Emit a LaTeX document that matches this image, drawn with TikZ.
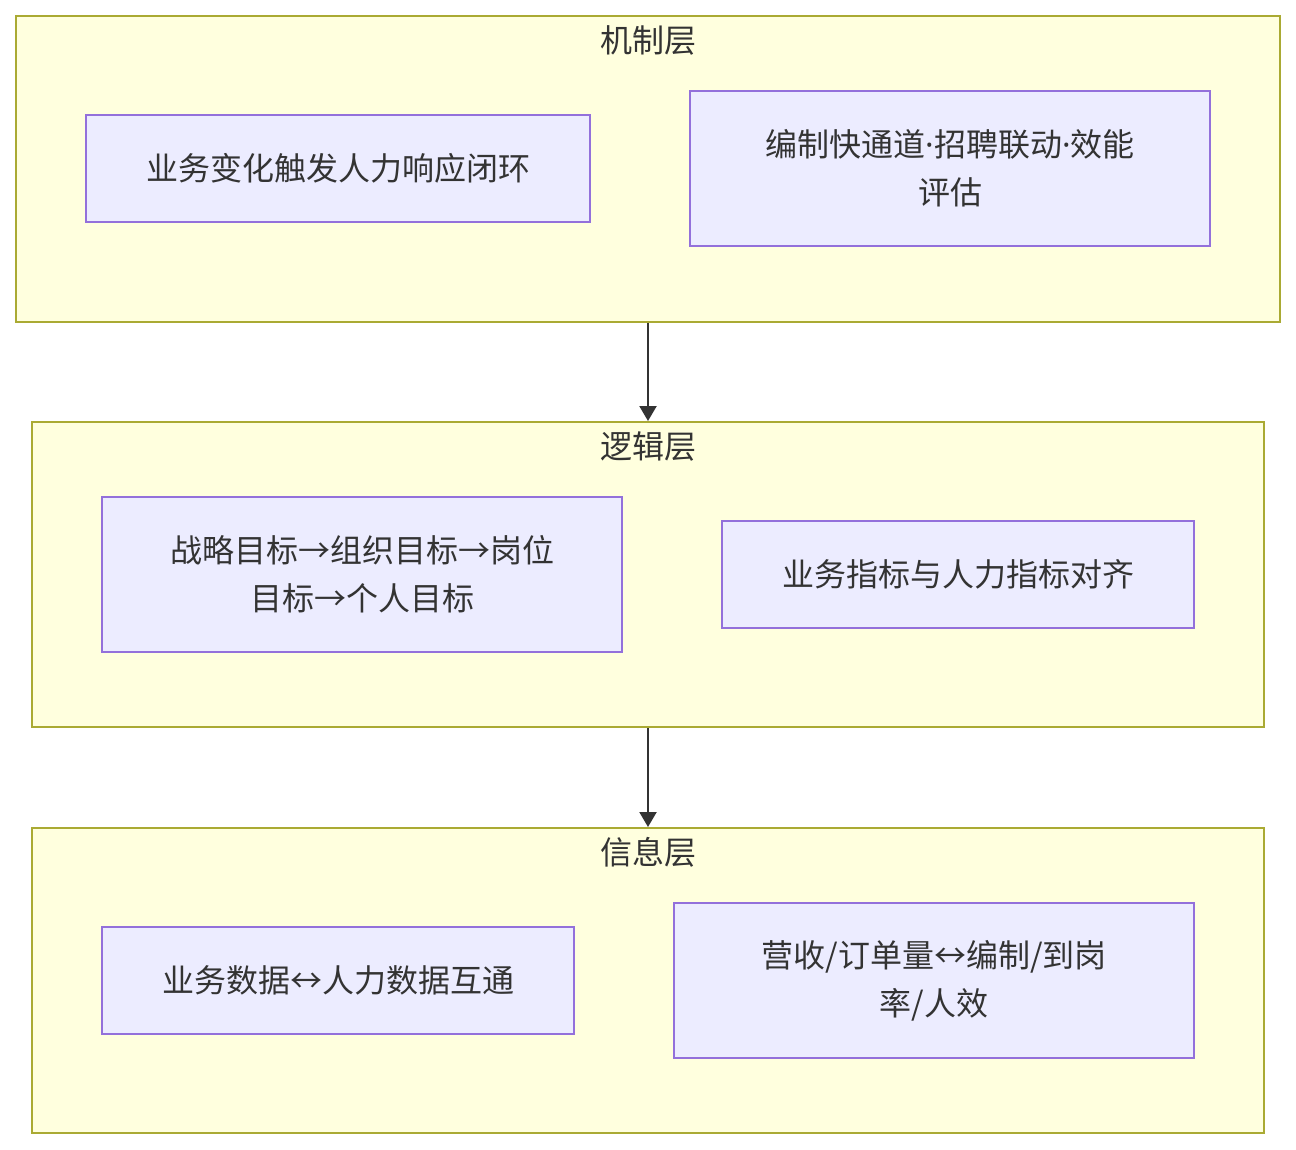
\documentclass[tikz,border=0pt]{standalone}
\usepackage{fontspec}
\setmainfont{Noto Sans CJK SC}
\newfontfamily\latinfont{Noto Sans}
\newcommand{\mdot}{{\latinfont ·}}
\usetikzlibrary{arrows.meta}
\definecolor{clfill}{HTML}{FFFFDE}
\definecolor{cldraw}{HTML}{AAAA33}
\definecolor{ndfill}{HTML}{ECECFF}
\definecolor{nddraw}{HTML}{9370DB}
\definecolor{txt}{HTML}{333333}
\tikzset{
  cluster/.style={draw=cldraw, fill=clfill, line width=2pt, rectangle, inner sep=0pt},
  box/.style={draw=nddraw, fill=ndfill, line width=2pt, rectangle, inner sep=0pt,
    text=txt, align=center, font=\fontsize{32}{48}\selectfont},
  ctitle/.style={text=txt, font=\fontsize{32}{48}\selectfont, inner sep=0pt, anchor=center},
  link/.style={draw=txt, line width=2.2pt, -{Triangle[length=15pt,width=17pt]}}
}
\begin{document}
\begin{tikzpicture}[x=1pt,y=-1pt]
\useasboundingbox[fill=white] (0,0) rectangle (1296,1150);
% clusters
\node[cluster, minimum width=1264pt, minimum height=306pt] (c1) at (648,169) {};
\node[cluster, minimum width=1232pt, minimum height=305pt] (c2) at (648,574.5) {};
\node[cluster, minimum width=1232pt, minimum height=305pt] (c3) at (648,980.5) {};
\node[ctitle] (t1) at (648,40) {机制层};
\node[ctitle] (t2) at (648,446) {逻辑层};
\node[ctitle] (t3) at (648,852) {信息层};
% nodes
\node[box, minimum width=504pt, minimum height=107pt] (a) at (338,168.5) {业务变化触发人力响应闭环};
\node[box, minimum width=520pt, minimum height=155pt] (b) at (950,168.5) {编制快通道\mdot 招聘联动\mdot 效能\\评估};
\node[box, minimum width=520pt, minimum height=155pt] (c) at (362,574.5) {战略目标→组织目标→岗位\\目标→个人目标};
\node[box, minimum width=472pt, minimum height=107pt] (d) at (958,574.5) {业务指标与人力指标对齐};
\node[box, minimum width=472pt, minimum height=107pt] (e) at (338,980.5) {业务数据↔人力数据互通};
\node[box, minimum width=520pt, minimum height=155pt] (f) at (934,980.5) {营收/订单量↔编制/到岗\\率/人效};
% links
\draw[link] (c1.south) -- (c2.north);
\draw[link] (c2.south) -- (c3.north);
\end{tikzpicture}
\end{document}
